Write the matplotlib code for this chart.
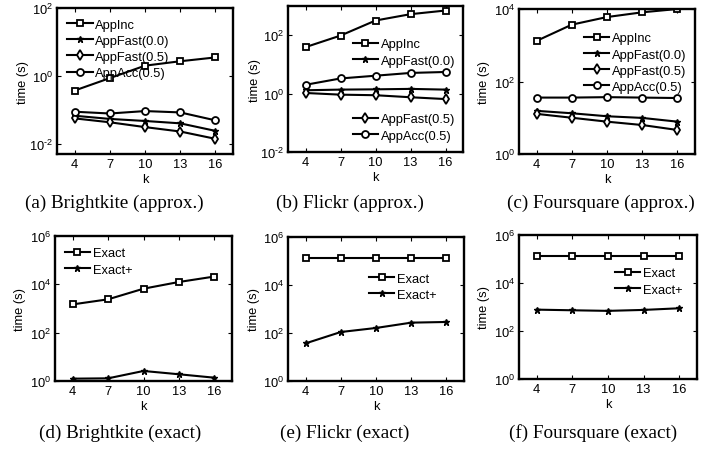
import matplotlib
matplotlib.use("Agg")
import matplotlib.pyplot as plt
from matplotlib.ticker import FixedLocator, NullLocator, FuncFormatter
import math

plt.rcParams['font.family'] = ['Liberation Sans', 'DejaVu Sans']
plt.rcParams['mathtext.fontset'] = 'custom'
plt.rcParams['mathtext.rm'] = 'Liberation Sans'
plt.rcParams['mathtext.it'] = 'Liberation Sans'

k = [4, 7, 10, 13, 16]

# (a) Brightkite approx
bk_appinc = [0.37, 0.86, 2.0, 2.7, 3.5]
bk_fast00 = [0.067, 0.054, 0.047, 0.040, 0.024]
bk_fast05 = [0.056, 0.043, 0.031, 0.023, 0.014]
bk_acc05 = [0.088, 0.078, 0.092, 0.084, 0.049]
# (b) Flickr approx
fl_appinc = [39, 97, 318, 525, 700]
fl_fast00 = [1.3, 1.37, 1.4, 1.45, 1.37]
fl_fast05 = [1.05, 0.92, 0.88, 0.75, 0.65]
fl_acc05 = [2.0, 3.3, 4.1, 5.1, 5.5]
# (c) Foursquare approx
fs_appinc = [1320, 3700, 6000, 8100, 10000]
fs_fast00 = [15.5, 13.3, 11.0, 9.9, 7.8]
fs_fast05 = [12.8, 10.0, 7.8, 6.3, 4.6]
fs_acc05 = [36, 36, 37, 36, 35]
# (d)-(f) exact
bk_exact = [1480, 2400, 6600, 12500, 21000]
bk_exactp = [1.25, 1.29, 2.6, 1.9, 1.37]
fl_exact = [133000, 133000, 133000, 133000, 133000]
fl_exactp = [37, 110, 162, 270, 288]
fs_exact = [135000, 135000, 135000, 135000, 135000]
fs_exactp = [776, 730, 690, 756, 885]

approx_labels = ['AppInc', 'AppFast(0.0)', 'AppFast(0.5)', 'AppAcc(0.5)']
exact_labels = ['Exact', 'Exact+']
captions = ['(a) Brightkite (approx.)', '(b) Flickr (approx.)', '(c) Foursquare (approx.)',
            '(d) Brightkite (exact)', '(e) Flickr (exact)', '(f) Foursquare (exact)']

W, H = 715, 452
fig = plt.figure(figsize=(W / 100, H / 100), dpi=100)

FS = 9.3


def px_axes(l, t, r, b):
    return fig.add_axes([l / W, 1 - b / H, (r - l) / W, (b - t) / H])


def dec_label(v, pos):
    e = int(round(math.log10(v)))
    return r'$\mathregular{10^{%s}}$' % ('\u2010%d' % -e if e < 0 else '%d' % e)


def style(ax, ylim, yticks, ylab_px):
    ax.set_yscale('log')
    ax.set_xlim(2.5, 17.5)
    ax.set_ylim(*ylim)
    ax.xaxis.set_major_locator(FixedLocator(k))
    ax.yaxis.set_major_locator(FixedLocator(yticks))
    ax.yaxis.set_minor_locator(NullLocator())
    ax.yaxis.set_major_formatter(FuncFormatter(dec_label))
    ax.tick_params(direction='in', length=3, width=0.8, top=True, right=True,
                   labelsize=FS, pad=3)
    for s in ax.spines.values():
        s.set_linewidth(1.7)
    ax.set_xlabel('k', fontsize=FS, labelpad=2)
    ax.set_ylabel('time (s)', fontsize=FS)
    bb = ax.get_position()
    ax.yaxis.set_label_coords((ylab_px / W - bb.x0) / bb.width, 0.5)


lw = 1.5
ms = 5
mk = dict(color='black', lw=lw, mfc='white', mec='black', mew=1.3)
mk_star = dict(color='black', lw=lw, mfc='black', mec='black', mew=1.0)


def plot_approx(ax, a, f0, f5, c):
    l1, = ax.plot(k, a, marker='s', ms=ms, **mk)
    l2, = ax.plot(k, f0, marker='*', ms=4.5, **mk_star)
    l3, = ax.plot(k, f5, marker='d', ms=ms, **mk)
    l4, = ax.plot(k, c, marker='o', ms=ms, **mk)
    return [l1, l2, l3, l4]


def plot_exact(ax, e, ep):
    l1, = ax.plot(k, e, marker='s', ms=ms, **mk)
    l2, = ax.plot(k, ep, marker='*', ms=4.5, **mk_star)
    return [l1, l2]


leg_kw = dict(frameon=False, fontsize=FS, handlelength=2.0, handletextpad=0.2,
              labelspacing=0.32, borderpad=0.0, borderaxespad=0.0, loc='upper left')

# (a)
ax = px_axes(57, 9, 233, 155)
hs = plot_approx(ax, bk_appinc, bk_fast00, bk_fast05, bk_acc05)
style(ax, (0.005, 100), [1e-2, 1e0, 1e2], 29)
ax.legend(hs, approx_labels, bbox_to_anchor=(0.055, 0.928), **leg_kw)

# (b)
ax = px_axes(288, 7, 463, 153)
hs = plot_approx(ax, fl_appinc, fl_fast00, fl_fast05, fl_acc05)
style(ax, (0.01, 1000), [1e-2, 1e0, 1e2], 261)
lg1 = ax.legend(hs[:2], approx_labels[:2], bbox_to_anchor=(0.369, 0.778), **leg_kw)
ax.add_artist(lg1)
ax.legend(hs[2:], approx_labels[2:], bbox_to_anchor=(0.369, 0.264), **leg_kw)

# (c)
ax = px_axes(519, 10, 695, 155)
hs = plot_approx(ax, fs_appinc, fs_fast00, fs_fast05, fs_acc05)
style(ax, (1, 1e4), [1e0, 1e2, 1e4], 490)
ax.legend(hs, approx_labels, bbox_to_anchor=(0.367, 0.839), **leg_kw)

# (d)
ax = px_axes(55, 237, 232, 382)
hs = plot_exact(ax, bk_exact, bk_exactp)
style(ax, (1, 1e6), [1e0, 1e2, 1e4, 1e6], 26)
ax.legend(hs, exact_labels, bbox_to_anchor=(0.054, 0.921), **leg_kw)

# (e)
ax = px_axes(288, 238, 464, 382)
hs = plot_exact(ax, fl_exact, fl_exactp)
style(ax, (1, 1e6), [1e0, 1e2, 1e4, 1e6], 260)
ax.legend(hs, exact_labels, bbox_to_anchor=(0.458, 0.753), **leg_kw)

# (f)
ax = px_axes(519, 236, 697, 380)
hs = plot_exact(ax, fs_exact, fs_exactp)
style(ax, (1, 1e6), [1e0, 1e2, 1e4, 1e6], 490)
ax.legend(hs, exact_labels, bbox_to_anchor=(0.537, 0.775), **leg_kw)

cap_x = [114, 350, 601, 120, 345, 593]
cap_y = [203, 203, 203, 433, 433, 433]
for c, x, y in zip(captions, cap_x, cap_y):
    fig.text(x / W, 1 - y / H, c, ha='center', va='center', fontsize=13.8,
             family=['Liberation Serif', 'DejaVu Serif'])

fig.savefig('out.png', dpi=100)
